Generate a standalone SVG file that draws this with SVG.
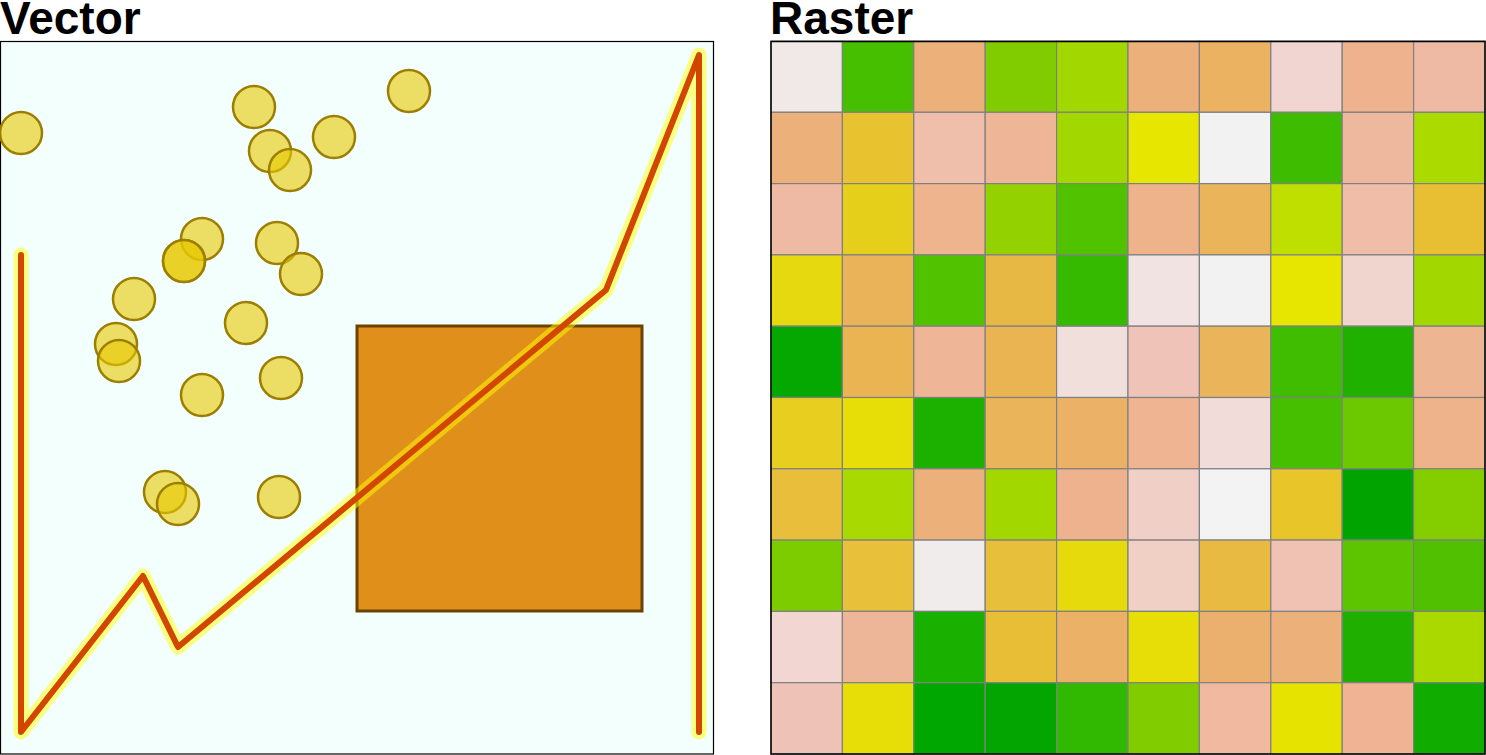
<svg xmlns="http://www.w3.org/2000/svg" width="1486" height="755" viewBox="0 0 1486 755">
<style>
.title{font-family:"Liberation Sans",Arial,sans-serif;font-weight:bold;font-size:46px;fill:#000}
.pt{fill:#E8C800;fill-opacity:0.6;stroke:#9C7E00;stroke-width:2.5}
.cell rect{stroke:#808080;stroke-width:1.2}
</style>
<rect width="1486" height="755" fill="#fff"/>
<text class="title" x="0" y="34">Vector</text>
<text class="title" x="770" y="34">Raster</text>
<g id="vector">
<rect x="0.5" y="41.5" width="713" height="712.5" fill="#F2FFFC" stroke="#000" stroke-width="1.2"/>
<rect x="357" y="326" width="285" height="285" fill="#E0901A" stroke="#6B4200" stroke-width="3"/>
<g id="points">
<circle class="pt" cx="21" cy="133" r="21"/>
<circle class="pt" cx="254" cy="107" r="21"/>
<circle class="pt" cx="270" cy="151" r="21"/>
<circle class="pt" cx="290" cy="170" r="21"/>
<circle class="pt" cx="334" cy="137" r="21"/>
<circle class="pt" cx="409" cy="91" r="21"/>
<circle class="pt" cx="202" cy="239" r="21"/>
<circle class="pt" cx="184" cy="261" r="21"/>
<circle class="pt" cx="184" cy="261" r="21"/>
<circle class="pt" cx="277" cy="243" r="21"/>
<circle class="pt" cx="301" cy="274" r="21"/>
<circle class="pt" cx="134" cy="299" r="21"/>
<circle class="pt" cx="246" cy="323" r="21"/>
<circle class="pt" cx="116" cy="344" r="21"/>
<circle class="pt" cx="119" cy="361" r="21"/>
<circle class="pt" cx="281" cy="378" r="21"/>
<circle class="pt" cx="202" cy="395" r="21"/>
<circle class="pt" cx="165" cy="492" r="21"/>
<circle class="pt" cx="178" cy="504" r="21"/>
<circle class="pt" cx="279" cy="497" r="21"/>
</g>
<g id="line" fill="none" stroke-linecap="round" stroke-linejoin="round">
<polyline points="21,255 21,732 143,576 178,647 606,290 699,55 699,732" stroke="#FFFF00" stroke-opacity="0.5" stroke-width="15"/>
<polyline points="21,255 21,732 143,576 178,647 606,290 699,55 699,732" stroke="#D24600" stroke-width="6"/>
</g>
</g>
<g id="raster" class="cell">
<g transform="translate(771,41)">
<rect x="0" y="0" width="71.4" height="71.3" fill="#F1E9E7"/>
<rect x="71.4" y="0" width="71.4" height="71.3" fill="#46BF00"/>
<rect x="142.8" y="0" width="71.4" height="71.3" fill="#ECB17B"/>
<rect x="214.2" y="0" width="71.4" height="71.3" fill="#80CC00"/>
<rect x="285.6" y="0" width="71.4" height="71.3" fill="#A2D700"/>
<rect x="357" y="0" width="71.4" height="71.3" fill="#ECB07A"/>
<rect x="428.4" y="0" width="71.4" height="71.3" fill="#EBB361"/>
<rect x="499.8" y="0" width="71.4" height="71.3" fill="#F0D5D0"/>
<rect x="571.2" y="0" width="71.4" height="71.3" fill="#EEB38E"/>
<rect x="642.6" y="0" width="71.4" height="71.3" fill="#EFBAA3"/>

<rect x="0" y="71.3" width="71.4" height="71.3" fill="#ECB07A"/>
<rect x="71.4" y="71.3" width="71.4" height="71.3" fill="#E9C22F"/>
<rect x="142.8" y="71.3" width="71.4" height="71.3" fill="#EFBFAC"/>
<rect x="214.2" y="71.3" width="71.4" height="71.3" fill="#EEB597"/>
<rect x="285.6" y="71.3" width="71.4" height="71.3" fill="#A2D700"/>
<rect x="357" y="71.3" width="71.4" height="71.3" fill="#E6E600"/>
<rect x="428.4" y="71.3" width="71.4" height="71.3" fill="#F2F2F2"/>
<rect x="499.8" y="71.3" width="71.4" height="71.3" fill="#3DBC00"/>
<rect x="571.2" y="71.3" width="71.4" height="71.3" fill="#EEB89F"/>
<rect x="642.6" y="71.3" width="71.4" height="71.3" fill="#AADA00"/>

<rect x="0" y="142.6" width="71.4" height="71.3" fill="#EFBAA3"/>
<rect x="71.4" y="142.6" width="71.4" height="71.3" fill="#E6CF1B"/>
<rect x="142.8" y="142.6" width="71.4" height="71.3" fill="#EEB48E"/>
<rect x="214.2" y="142.6" width="71.4" height="71.3" fill="#93D200"/>
<rect x="285.6" y="142.6" width="71.4" height="71.3" fill="#50C200"/>
<rect x="357" y="142.6" width="71.4" height="71.3" fill="#EEB38A"/>
<rect x="428.4" y="142.6" width="71.4" height="71.3" fill="#EAB45A"/>
<rect x="499.8" y="142.6" width="71.4" height="71.3" fill="#BEDF00"/>
<rect x="571.2" y="142.6" width="71.4" height="71.3" fill="#EFBDA8"/>
<rect x="642.6" y="142.6" width="71.4" height="71.3" fill="#E8BF33"/>

<rect x="0" y="213.9" width="71.4" height="71.3" fill="#E6D90F"/>
<rect x="71.4" y="213.9" width="71.4" height="71.3" fill="#EAB35A"/>
<rect x="142.8" y="213.9" width="71.4" height="71.3" fill="#50C200"/>
<rect x="214.2" y="213.9" width="71.4" height="71.3" fill="#E8B844"/>
<rect x="285.6" y="213.9" width="71.4" height="71.3" fill="#36BA00"/>
<rect x="357" y="213.9" width="71.4" height="71.3" fill="#F1E3E1"/>
<rect x="428.4" y="213.9" width="71.4" height="71.3" fill="#F2F2F2"/>
<rect x="499.8" y="213.9" width="71.4" height="71.3" fill="#E6E600"/>
<rect x="571.2" y="213.9" width="71.4" height="71.3" fill="#F0D4CE"/>
<rect x="642.6" y="213.9" width="71.4" height="71.3" fill="#A2D700"/>

<rect x="0" y="285.2" width="71.4" height="71.3" fill="#04A800"/>
<rect x="71.4" y="285.2" width="71.4" height="71.3" fill="#EAB453"/>
<rect x="142.8" y="285.2" width="71.4" height="71.3" fill="#EEB597"/>
<rect x="214.2" y="285.2" width="71.4" height="71.3" fill="#EAB453"/>
<rect x="285.6" y="285.2" width="71.4" height="71.3" fill="#F1DFDC"/>
<rect x="357" y="285.2" width="71.4" height="71.3" fill="#EFC3B7"/>
<rect x="428.4" y="285.2" width="71.4" height="71.3" fill="#EAB45A"/>
<rect x="499.8" y="285.2" width="71.4" height="71.3" fill="#40BD00"/>
<rect x="571.2" y="285.2" width="71.4" height="71.3" fill="#20B100"/>
<rect x="642.6" y="285.2" width="71.4" height="71.3" fill="#EEB592"/>

<rect x="0" y="356.5" width="71.4" height="71.3" fill="#E8CF1F"/>
<rect x="71.4" y="356.5" width="71.4" height="71.3" fill="#E6DE06"/>
<rect x="142.8" y="356.5" width="71.4" height="71.3" fill="#1CB100"/>
<rect x="214.2" y="356.5" width="71.4" height="71.3" fill="#EAB45A"/>
<rect x="285.6" y="356.5" width="71.4" height="71.3" fill="#EBB166"/>
<rect x="357" y="356.5" width="71.4" height="71.3" fill="#EFB492"/>
<rect x="428.4" y="356.5" width="71.4" height="71.3" fill="#F1DCD9"/>
<rect x="499.8" y="356.5" width="71.4" height="71.3" fill="#45BF00"/>
<rect x="571.2" y="356.5" width="71.4" height="71.3" fill="#6CC800"/>
<rect x="642.6" y="356.5" width="71.4" height="71.3" fill="#EEB38A"/>

<rect x="0" y="427.8" width="71.4" height="71.3" fill="#E8BE3A"/>
<rect x="71.4" y="427.8" width="71.4" height="71.3" fill="#A8D900"/>
<rect x="142.8" y="427.8" width="71.4" height="71.3" fill="#ECB07A"/>
<rect x="214.2" y="427.8" width="71.4" height="71.3" fill="#A2D700"/>
<rect x="285.6" y="427.8" width="71.4" height="71.3" fill="#EEB38E"/>
<rect x="357" y="427.8" width="71.4" height="71.3" fill="#F0CFC6"/>
<rect x="428.4" y="427.8" width="71.4" height="71.3" fill="#F3F3F3"/>
<rect x="499.8" y="427.8" width="71.4" height="71.3" fill="#E8C528"/>
<rect x="571.2" y="427.8" width="71.4" height="71.3" fill="#00A300"/>
<rect x="642.6" y="427.8" width="71.4" height="71.3" fill="#84CE00"/>

<rect x="0" y="499.1" width="71.4" height="71.3" fill="#7CCC00"/>
<rect x="71.4" y="499.1" width="71.4" height="71.3" fill="#E8C03A"/>
<rect x="142.8" y="499.1" width="71.4" height="71.3" fill="#F0ECEB"/>
<rect x="214.2" y="499.1" width="71.4" height="71.3" fill="#E8BF3A"/>
<rect x="285.6" y="499.1" width="71.4" height="71.3" fill="#E6D90C"/>
<rect x="357" y="499.1" width="71.4" height="71.3" fill="#F0CFC5"/>
<rect x="428.4" y="499.1" width="71.4" height="71.3" fill="#E8BA42"/>
<rect x="499.8" y="499.1" width="71.4" height="71.3" fill="#F0C2B3"/>
<rect x="571.2" y="499.1" width="71.4" height="71.3" fill="#5CC400"/>
<rect x="642.6" y="499.1" width="71.4" height="71.3" fill="#50C000"/>

<rect x="0" y="570.4" width="71.4" height="71.3" fill="#F1D6D2"/>
<rect x="71.4" y="570.4" width="71.4" height="71.3" fill="#EEB698"/>
<rect x="142.8" y="570.4" width="71.4" height="71.3" fill="#1AB000"/>
<rect x="214.2" y="570.4" width="71.4" height="71.3" fill="#E8BE36"/>
<rect x="285.6" y="570.4" width="71.4" height="71.3" fill="#EBB166"/>
<rect x="357" y="570.4" width="71.4" height="71.3" fill="#E6DE06"/>
<rect x="428.4" y="570.4" width="71.4" height="71.3" fill="#ECB06E"/>
<rect x="499.8" y="570.4" width="71.4" height="71.3" fill="#ECB17B"/>
<rect x="571.2" y="570.4" width="71.4" height="71.3" fill="#1EAF00"/>
<rect x="642.6" y="570.4" width="71.4" height="71.3" fill="#AAD900"/>

<rect x="0" y="641.7" width="71.4" height="71.3" fill="#EFC2B7"/>
<rect x="71.4" y="641.7" width="71.4" height="71.3" fill="#E6DE06"/>
<rect x="142.8" y="641.7" width="71.4" height="71.3" fill="#00A700"/>
<rect x="214.2" y="641.7" width="71.4" height="71.3" fill="#03A600"/>
<rect x="285.6" y="641.7" width="71.4" height="71.3" fill="#30B900"/>
<rect x="357" y="641.7" width="71.4" height="71.3" fill="#80CC00"/>
<rect x="428.4" y="641.7" width="71.4" height="71.3" fill="#F0B9A0"/>
<rect x="499.8" y="641.7" width="71.4" height="71.3" fill="#E6E300"/>
<rect x="571.2" y="641.7" width="71.4" height="71.3" fill="#F0B393"/>
<rect x="642.6" y="641.7" width="71.4" height="71.3" fill="#10AC00"/>
</g>
<rect x="771" y="41.5" width="714" height="712.5" fill="none" style="stroke:#000;stroke-width:1.5"/>
</g>
</svg>
